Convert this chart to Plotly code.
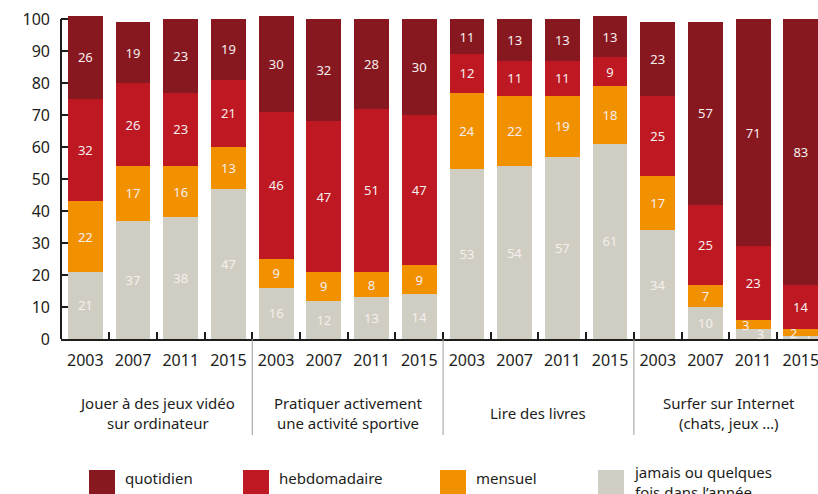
import plotly.graph_objects as go

# ---------------- data ----------------
groups = [
    "Jouer à des jeux vidéo<br>sur ordinateur",
    "Pratiquer activement<br>une activité sportive",
    "Lire des livres",
    "Surfer sur Internet<br>(chats, jeux …)",
]
years = ["2003", "2007", "2011", "2015"]

jamais = [21, 37, 38, 47, 16, 12, 13, 14, 53, 54, 57, 61, 34, 10, 3, 1]
mensuel = [22, 17, 16, 13, 9, 9, 8, 9, 24, 22, 19, 18, 17, 7, 3, 2]
hebdomadaire = [32, 26, 23, 21, 46, 47, 51, 47, 12, 11, 11, 9, 25, 25, 23, 14]
quotidien = [26, 19, 23, 19, 30, 32, 28, 30, 11, 13, 13, 13, 23, 57, 71, 83]

series = [
    ("jamais ou quelques<br>fois dans l’année", jamais, "#D0CEC2", "right"),
    ("mensuel", mensuel, "#F29100", "left"),
    ("hebdomadaire", hebdomadaire, "#BE1823", None),
    ("quotidien", quotidien, "#881820", None),
]

# ---------------- layout helpers ----------------
W, H = 818, 494
L, T = 61, 0
PW, PH = W - L, 339
def xp(px):
    return (px - L) / PW
def yp(py):
    return (T + PH - py) / PH

n_per = len(years)
xs = list(range(len(groups) * n_per))
ticktext = years * len(groups)

PADS = "\u2007\u2007"
def label(v, side):
    # very thin segments: nudge the label sideways so neighbours do not collide
    if side is None or v > 4:
        return str(v)
    return (PADS + str(v)) if side == "right" else (str(v) + PADS)

fig = go.Figure()
for name, vals, col, side in series:
    fig.add_trace(go.Bar(
        x=xs, y=vals, name=name, marker=dict(color=col, line=dict(width=0)),
        width=0.73, text=[label(v, side) for v in vals], textposition="inside",
        insidetextanchor="middle", textangle=0,
        textfont=dict(color="#F6EEEE", size=13, family="Noto Sans"),
        showlegend=False, hoverinfo="skip",
    ))

shapes = []
# y axis line (0 -> 100)
shapes.append(dict(type="line", xref="paper", yref="y", x0=0, x1=0, y0=0, y1=100,
                   line=dict(color="#1d1d1b", width=2)))
# group dividers
for g in range(1, len(groups)):
    xb = g * n_per - 0.5
    shapes.append(dict(type="line", xref="x", yref="paper", x0=xb, x1=xb,
                       y0=0, y1=yp(435), line=dict(color="#9d9d95", width=1)))

annotations = []
for g, name in enumerate(groups):
    cx = g * n_per + (n_per - 1) / 2
    annotations.append(dict(x=cx, xref="x", y=yp(413), yref="paper", text=name,
                            showarrow=False, xanchor="center", yanchor="middle",
                            font=dict(size=15, color="#1d1d1b", family="Noto Sans")))

# manual legend
legend_items = [
    ("quotidien", "#881820", 89, 123),
    ("hebdomadaire", "#BE1823", 243, 277),
    ("mensuel", "#F29100", 440, 474),
    ("jamais ou quelques<br>fois dans l’année", "#D0CEC2", 598, 632),
]
for name, col, sx, tx in legend_items:
    shapes.append(dict(type="rect", xref="paper", yref="paper",
                       x0=xp(sx), x1=xp(sx + 26), y0=yp(470), y1=yp(496),
                       fillcolor=col, line=dict(width=0)))
    if "<br>" in name:
        annotations.append(dict(x=xp(tx), xref="paper", y=yp(460), yref="paper", text=name,
                                showarrow=False, xanchor="left", yanchor="top", align="left",
                                font=dict(size=15, color="#1d1d1b", family="Noto Sans")))
    else:
        annotations.append(dict(x=xp(tx), xref="paper", y=yp(478), yref="paper", text=name,
                                showarrow=False, xanchor="left", yanchor="middle",
                                font=dict(size=15, color="#1d1d1b", family="Noto Sans")))

fig.update_layout(
    width=W, height=H,
    margin=dict(l=L, r=0, t=T, b=H - PH - T, pad=0),
    barmode="stack", bargap=0.27,
    plot_bgcolor="white", paper_bgcolor="white",
    font=dict(family="Noto Sans", color="#1d1d1b"),
    uniformtext=dict(minsize=13, mode="show"),
    shapes=shapes, annotations=annotations,
    showlegend=False,
)
fig.update_xaxes(
    range=[-0.51, 15.36], tickvals=xs, ticktext=ticktext, ticks="",
    showgrid=False, zeroline=False, showline=True, linecolor="#1d1d1b", linewidth=2,
    tickfont=dict(size=16, color="#1d1d1b"), ticklabelstandoff=6,
    ticklabeloverflow="allow",
    minor=dict(tickvals=[i + 0.5 for i in xs[:-1]], ticks="inside", ticklen=7,
               tickwidth=2, tickcolor="#1d1d1b", showgrid=False),
)
fig.update_yaxes(
    range=[0, PH / 3.2], tickvals=list(range(0, 101, 10)), ticks="inside", ticklen=7,
    tickwidth=2, tickcolor="#1d1d1b", showgrid=False, zeroline=False, showline=False,
    tickfont=dict(size=16, color="#1d1d1b"), ticklabelstandoff=10,
)

fig.write_html("out.html", config={"displayModeBar": False},
               post_script="document.body.style.margin='0px';document.body.style.overflow='hidden';")
